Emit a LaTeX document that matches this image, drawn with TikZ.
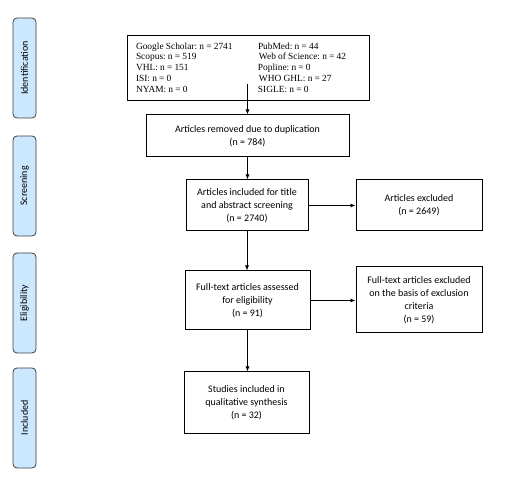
\documentclass[tikz,border=0pt]{standalone}
\usepackage{fontspec}
\setmainfont{Carlito}
\newfontfamily\srcfont{Liberation Serif}
\usepackage{xcolor}
\usepackage{tikz}
\usetikzlibrary{arrows.meta,positioning}

\definecolor{phasefill}{RGB}{204,232,255}

\begin{document}
\begin{tikzpicture}[x=1pt, y=-1pt, font=\fontsize{10}{13}\selectfont, >=Latex,
  box/.style={draw, line width=1pt, align=center, inner sep=2pt},
  phase/.style={draw=black!75, line width=0.8pt, fill=phasefill, rounded corners=4pt, rotate=90, minimum width=100pt, minimum height=23pt, inner sep=0pt},
  line/.style={->, line width=0.8pt, >={Latex[length=5pt,width=4pt]}}]
\useasboundingbox (0,0) rectangle (507,484);
% phase labels
\node[phase] (identification) at (24.5,68) {Identification};
\node[phase] (screening) at (24.5,186) {Screening};
\node[phase] (eligibility) at (24.5,303) {Eligibility};
\node[phase] (included) at (24.5,418) {Included};
% flow boxes
\node[box, align=left, text width=224pt, inner xsep=9pt, minimum height=65pt] (sources) at (248,68.5)
  {\srcfont\fontsize{9.4}{10.7}\selectfont\frenchspacing\spaceskip=2.2pt plus 1pt
   \begin{tabular}{@{}p{122pt}@{}l@{}}
   Google Scholar: n = 2741 & PubMed: n = 44\\
   Scopus: n = 519 & \hspace{1pt}Web of Science: n = 42\\
   VHL: n = 151 & Popline: n = 0\\
   ISI: n = 0 & \hspace{1pt}WHO GHL: n = 27\\
   NYAM: n = 0 & SIGLE: n = 0
   \end{tabular}};
\node[box, minimum width=203pt, minimum height=42pt] (dup) at (247.5,136) {Articles removed due to duplication\\(n = 784)};
\node[box, minimum width=122pt, minimum height=51pt] (screen) at (247,205.5) {Articles included  for title\\and abstract screening\\(n = 2740)};
\node[box, minimum width=126pt, minimum height=51pt] (excluded) at (419,205.5) {Articles excluded\\(n = 2649)};
\node[box, minimum width=125pt, minimum height=59pt] (fulltext) at (247.5,300.5) {Full-text  articles assessed\\for eligibility\\(n = 91)};
\node[box, minimum width=126pt, minimum height=66pt] (ftexcluded) at (419,300) {Full-text  articles excluded\\on the basis of exclusion\\criteria\\(n = 59)};
\node[box, minimum width=125pt, minimum height=61pt] (studies) at (246.5,402.5) {Studies included  in\\qualitative synthesis\\(n = 32)};
% arrows
\draw[line] ([yshift=17pt]sources.south -| dup) -- (dup);
\draw[line] (dup) -- (dup |- screen.north);
\draw[line] (screen) -- (screen |- fulltext.north);
\draw[line] (screen) -- (excluded);
\draw[line] (fulltext) -- (ftexcluded.west |- fulltext);
\draw[line] (fulltext) -- (fulltext |- studies.north);
\end{tikzpicture}
\end{document}
